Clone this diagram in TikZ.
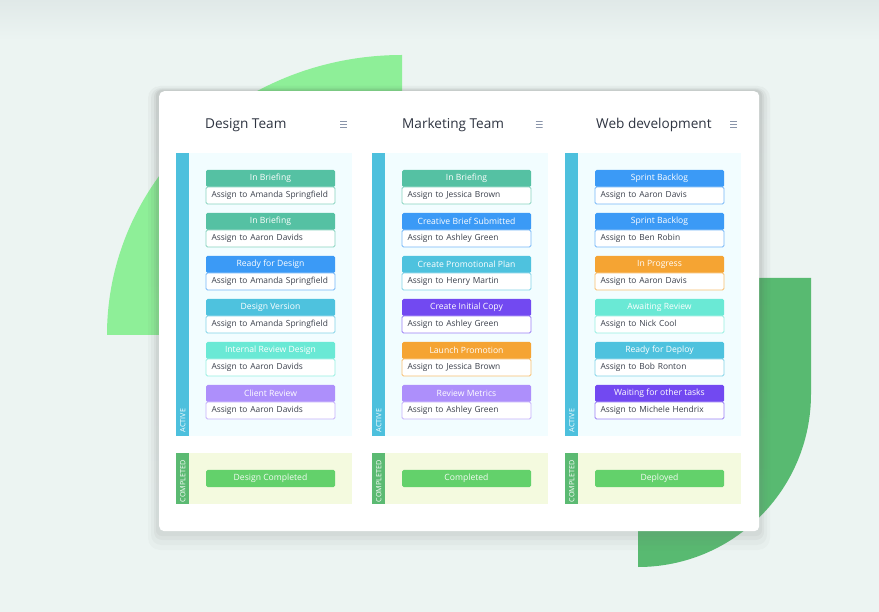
\documentclass[tikz,border=0pt]{standalone}
\usepackage{fontspec}
\setmainfont{Open Sans}
\usetikzlibrary{positioning,shapes}
\definecolor{bgmint}{HTML}{ECF4F2}
\definecolor{bgtop}{HTML}{E0E9E8}
\definecolor{blobl}{HTML}{8EEF98}
\definecolor{blobr}{HTML}{58BA71}
\definecolor{shade}{HTML}{9FB8B8}
\definecolor{titletext}{HTML}{2E3441}
\definecolor{cardtext}{HTML}{3B404C}
\definecolor{menugray}{HTML}{8A95AA}
\definecolor{activebar}{HTML}{4DC0DD}
\definecolor{activebg}{HTML}{F2FDFF}
\definecolor{donebar}{HTML}{5BBA72}
\definecolor{donebg}{HTML}{F4FADF}
\definecolor{donegreen}{HTML}{63D16B}
\definecolor{teal}{HTML}{55C1A3}
\definecolor{blue}{HTML}{3B9AF6}
\definecolor{cyan}{HTML}{4EC2DE}
\definecolor{aqua}{HTML}{6AE9D5}
\definecolor{lavender}{HTML}{AD8FFB}
\definecolor{purple}{HTML}{7249F1}
\definecolor{orange}{HTML}{F5A433}
\tikzset{
	card/.style={minimum width=129pt, minimum height=17pt, inner sep=0pt, outer sep=0pt,
		rounded corners=1.5pt, font={\fontsize{8.6}{10}\selectfont}},
	hd/.style={card, fill=#1, text=white},
	bd/.style={card, draw=#1!70!white, line width=0.8pt, fill=white,
		text width=118pt, inner xsep=5.5pt, align=left, text=cardtext,
		font={\fontsize{8.4}{10}\selectfont}},
	title/.style={anchor=west, inner sep=0pt, text=titletext,
		font={\fontsize{13.6}{16}\selectfont}},
	menu/.style={minimum width=7pt, minimum height=8pt, inner sep=0pt,
		path picture={
			\draw[menugray, line width=1.1pt] ([yshift=3pt]path picture bounding box.west) -- ([yshift=3pt]path picture bounding box.east);
			\draw[menugray, line width=1.1pt] (path picture bounding box.west) -- (path picture bounding box.east);
			\draw[menugray, line width=1.1pt] ([yshift=-3pt]path picture bounding box.west) -- ([yshift=-3pt]path picture bounding box.east);
		}},
	lanetext/.style={rotate=90, anchor=west, inner sep=0pt, text=white,
		font={\fontsize{7.2}{8}\selectfont}}
}
\tikzstyle{lane} =
	[
		anchor=north west,
		minimum width=176pt,
		inner sep=0pt,
		fill=#1
	]
\tikzstyle{bar} =
	[
		anchor=north west,
		minimum width=13pt,
		inner sep=0pt,
		fill=#1
	]
\tikzstyle{donebtn} =
	[
		card,
		fill=donegreen,
		text=white!92!donegreen
	]

\begin{document}
\begin{tikzpicture}[x=1pt, y=-1pt, node distance=9pt]
	\useasboundingbox (0,0) rectangle (879,612);
	% background and blobs
	\fill[bgmint] (0,0) rectangle (879,612);
	\shade[top color=bgtop, bottom color=bgmint] (0,0) rectangle (879,40);
	\fill[blobl] (402,335) -- (107,335) arc[start angle=180, end angle=270, x radius=295, y radius=280] -- cycle;
	\fill[blobr] (638,278) -- (811,278) -- (811,394) arc[start angle=0, end angle=90, radius=173] -- cycle;
	% board with soft shadow
	\fill[shade, opacity=0.02, rounded corners=12pt] (148,86) rectangle (770,550);
	\fill[shade, opacity=0.025, rounded corners=10pt] (151,88) rectangle (767,545);
	\fill[shade, opacity=0.03, rounded corners=8pt] (154,89) rectangle (764,540);
	\fill[shade, opacity=0.035, rounded corners=6pt] (156,90) rectangle (762,536);
	\node[fill=white, rounded corners=5pt, minimum width=600pt, minimum height=440pt,
		anchor=north west, inner sep=0pt] (board) at (159,91) {};

	% Design Team
	\node[title] (dtitle) at (205,125) {Design Team};
	\node[menu] (dmenu) at (343.5,124.5) {};
	\node[lane=activebg, minimum height=283pt] (dact) at (176,153) {};
	\node[bar=activebar, minimum height=283pt] (dactbar) at (dact.north west) {};
	\node[lanetext] at ([yshift=4pt]dactbar.south) {ACTIVE};
	\node[hd=teal] (dh_0) at (270.5,178.5) {In Briefing};
	\node[bd=teal, below=0pt of dh_0] (db_0) {Assign to Amanda Springfield};
	\node[hd=teal, below=of db_0] (dh_1) {In Briefing};
	\node[bd=teal, below=0pt of dh_1] (db_1) {Assign to Aaron Davids};
	\node[hd=blue, below=of db_1] (dh_2) {Ready for Design};
	\node[bd=blue, below=0pt of dh_2] (db_2) {Assign to Amanda Springfield};
	\node[hd=cyan, below=of db_2] (dh_3) {Design Version};
	\node[bd=cyan, below=0pt of dh_3] (db_3) {Assign to Amanda Springfield};
	\node[hd=aqua, below=of db_3] (dh_4) {Internal Review Design};
	\node[bd=aqua, below=0pt of dh_4] (db_4) {Assign to Aaron Davids};
	\node[hd=lavender, below=of db_4] (dh_5) {Client Review};
	\node[bd=lavender, below=0pt of dh_5] (db_5) {Assign to Aaron Davids};
	\node[lane=donebg, minimum height=51pt] (ddone) at (176,453) {};
	\node[bar=donebar, minimum height=51pt] (ddonebar) at (ddone.north west) {};
	\node[lanetext] at ([yshift=2pt]ddonebar.south) {COMPLETED};
	\node[donebtn] (dbtn) at (270.5,478.5) {Design Completed};

	% Marketing Team
	\node[title] (mtitle) at (402,125) {Marketing Team};
	\node[menu] (mmenu) at (539,124.5) {};
	\node[lane=activebg, minimum height=283pt] (mact) at (372,153) {};
	\node[bar=activebar, minimum height=283pt] (mactbar) at (mact.north west) {};
	\node[lanetext] at ([yshift=4pt]mactbar.south) {ACTIVE};
	\node[hd=teal] (mh_0) at (466.5,178.5) {In Briefing};
	\node[bd=teal, below=0pt of mh_0] (mb_0) {Assign to Jessica Brown};
	\node[hd=blue, below=of mb_0] (mh_1) {Creative Brief Submitted};
	\node[bd=blue, below=0pt of mh_1] (mb_1) {Assign to Ashley Green};
	\node[hd=cyan, below=of mb_1] (mh_2) {Create Promotional Plan};
	\node[bd=cyan, below=0pt of mh_2] (mb_2) {Assign to Henry Martin};
	\node[hd=purple, below=of mb_2] (mh_3) {Create Initial Copy};
	\node[bd=purple, below=0pt of mh_3] (mb_3) {Assign to Ashley Green};
	\node[hd=orange, below=of mb_3] (mh_4) {Launch Promotion};
	\node[bd=orange, below=0pt of mh_4] (mb_4) {Assign to Jessica Brown};
	\node[hd=lavender, below=of mb_4] (mh_5) {Review Metrics};
	\node[bd=lavender, below=0pt of mh_5] (mb_5) {Assign to Ashley Green};
	\node[lane=donebg, minimum height=51pt] (mdone) at (372,453) {};
	\node[bar=donebar, minimum height=51pt] (mdonebar) at (mdone.north west) {};
	\node[lanetext] at ([yshift=2pt]mdonebar.south) {COMPLETED};
	\node[donebtn] (mbtn) at (466.5,478.5) {Completed};

	% Web development
	\node[title] (wtitle) at (596,125) {Web development};
	\node[menu] (wmenu) at (733.5,124.5) {};
	\node[lane=activebg, minimum height=283pt] (wact) at (565,153) {};
	\node[bar=activebar, minimum height=283pt] (wactbar) at (wact.north west) {};
	\node[lanetext] at ([yshift=4pt]wactbar.south) {ACTIVE};
	\node[hd=blue] (wh_0) at (659.5,178.5) {Sprint Backlog};
	\node[bd=blue, below=0pt of wh_0] (wb_0) {Assign to Aaron Davis};
	\node[hd=blue, below=of wb_0] (wh_1) {Sprint Backlog};
	\node[bd=blue, below=0pt of wh_1] (wb_1) {Assign to Ben Robin};
	\node[hd=orange, below=of wb_1] (wh_2) {In Progress};
	\node[bd=orange, below=0pt of wh_2] (wb_2) {Assign to Aaron Davis};
	\node[hd=aqua, below=of wb_2] (wh_3) {Awaiting Review};
	\node[bd=aqua, below=0pt of wh_3] (wb_3) {Assign to Nick Cool};
	\node[hd=cyan, below=of wb_3] (wh_4) {Ready for Deploy};
	\node[bd=cyan, below=0pt of wh_4] (wb_4) {Assign to Bob Ronton};
	\node[hd=purple, below=of wb_4] (wh_5) {Waiting for other tasks};
	\node[bd=purple, below=0pt of wh_5] (wb_5) {Assign to Michele Hendrix};
	\node[lane=donebg, minimum height=51pt] (wdone) at (565,453) {};
	\node[bar=donebar, minimum height=51pt] (wdonebar) at (wdone.north west) {};
	\node[lanetext] at ([yshift=2pt]wdonebar.south) {COMPLETED};
	\node[donebtn] (wbtn) at (659.5,478.5) {Deployed};
\end{tikzpicture}
\end{document}
